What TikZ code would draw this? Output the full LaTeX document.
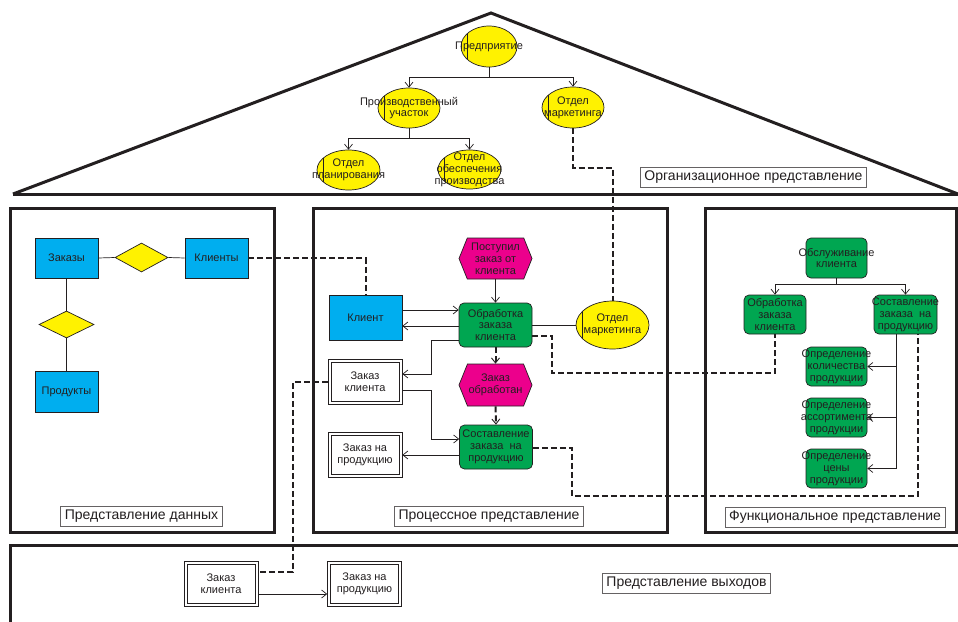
\documentclass[tikz,border=0pt]{standalone}
\usepackage{fontspec}
\setmainfont{Liberation Sans}
\usetikzlibrary{shapes.geometric,shapes.symbols,arrows.meta,calc}
\definecolor{ink}{HTML}{231F20}
\definecolor{orgyel}{HTML}{FFF200}
\definecolor{grn}{HTML}{00A651}
\definecolor{blu}{HTML}{00AEEF}
\definecolor{mag}{HTML}{EC008C}
\tikzset{
  lab/.style={font=\fontsize{11}{11.8}\selectfont, text=ink, align=center, inner sep=0pt},
  t/.style={label={[lab]center:#1}},
  base/.style={draw=ink, line width=0.7pt, inner sep=0pt},
  ell/.style={base, ellipse, fill=orgyel, minimum width=62pt, minimum height=40pt,
    path picture={\draw[ink,line width=0.7pt] ([xshift=6pt]path picture bounding box.north west) -- ([xshift=6pt]path picture bounding box.south west);}},
  gbox/.style={base, rounded corners=5pt, fill=grn, minimum width=73pt, minimum height=44pt},
  fbox/.style={base, rounded corners=5pt, fill=grn, minimum width=62pt, minimum height=39pt},
  bbox/.style={base, fill=blu, minimum width=63pt, minimum height=40pt},
  hexa/.style={base, shape=signal, signal to=east and west, signal pointer angle=136, fill=mag, minimum width=73pt, minimum height=41pt},
  dbox/.style={base, fill=white, minimum width=74pt, minimum height=45pt,
    path picture={\draw[ink,line width=0.7pt] ([shift={(3pt,-3pt)}]path picture bounding box.north west) rectangle ([shift={(-3pt,3pt)}]path picture bounding box.south east);}},
  dia/.style={base, diamond, fill=orgyel},
  arr/.style={draw=ink, line width=0.7pt, -{Straight Barb[length=5pt,width=8pt]}},
  ln/.style={draw=ink, line width=0.7pt},
  dsh/.style={draw=ink, line width=2pt, dash pattern=on 6pt off 3pt},
  dsharr/.style={dsh, -{Straight Barb[length=5pt,width=8pt,line width=0.9pt]}},
  pan/.style={draw=ink, line width=3pt},
  plab/.style={draw=ink!70, line width=0.7pt, fill=white, font=\fontsize{14}{16}\selectfont, text=ink, inner xsep=4pt, inner ysep=2pt, minimum height=20pt}
}
\begin{document}
\begin{tikzpicture}[x=1pt,y=-1pt]
\useasboundingbox (0,0) rectangle (958,621);
\begin{scope}
\clip (0,0) rectangle (958,621);
% roof
\draw[pan, line join=miter] (13,194) -- (491,13) -- (958,194);
\draw[pan] (13,194) -- (958,194);
% panels
\draw[pan] (10,208) rectangle (274,532);
\draw[pan] (313,208) rectangle (667,532);
\draw[pan] (705,208) rectangle (956,532);
\draw[pan] (10,640) -- (10,545) -- (980,545);
\end{scope}

% organisational view
\node[ell, minimum width=56pt, minimum height=41pt, t={Предприятие}] (pr) at (489,46.5) {};
\node[ell, t={Производственный\\участок}] (pu) at (409,108) {};
\node[ell, minimum height=41pt, t={Отдел\\маркетинга}] (om) at (573,107.5) {};
\node[ell, minimum width=63pt, t={Отдел\\планирования}] (op) at (348.5,170) {};
\node[ell, minimum width=63pt, minimum height=39pt, t={Отдел\\обеспечения\\производства}] (oo) at (469.5,169.5) {};
\draw[ln] (pr.south) -- ++(0,9.5) coordinate (t0);
\draw[arr] (t0) -| (pu.north);
\draw[arr] (t0) -| (om.north);
\draw[ln] (pu.south) -- ++(0,10) coordinate (t1);
\draw[arr] (t1) -| (op.north);
\draw[arr] (t1) -| (oo.north);
\node[plab] (lorg) at (753.5,177) {Организационное представление};

% data view
\node[bbox, t={Заказы}] (zs) at (66.5,258) {};
\node[dia, minimum width=53pt, minimum height=29pt] (d1) at (141.5,257.5) {};
\node[bbox, t={Клиенты}] (kl) at (216.5,258) {};
\node[dia, minimum width=55pt, minimum height=27pt] (d2) at (66.5,324.5) {};
\node[bbox, minimum height=41pt, t={Продукты}] (pd) at (66.5,391.5) {};
\draw[ln] (zs.east) -- (d1.west);
\draw[ln] (d1.east) -- (kl.west);
\draw[ln] (zs.south) -- (d2.north);
\draw[ln] (d2.south) -- (pd.north);
\node[plab] (ldat) at (141.5,516) {Представление данных};

% process view
\node[hexa, t={Поступил\\заказ от\\клиента}] (ps) at (495.5,258.5) {};
\node[gbox, t={Обработка\\заказа\\клиента}] (ob) at (495.5,325) {};
\node[bbox, minimum width=73pt, minimum height=45pt, t={Клиент}] (kt) at (365.5,317.5) {};
\node[ell, minimum width=73pt, minimum height=48pt, t={Отдел\\маркетинга}] (pm) at (612.5,325) {};
\node[dbox, t={Заказ\\клиента}] (zk) at (365,381.5) {};
\node[hexa, minimum height=42pt, t={Заказ\\обработан}] (zo) at (495.5,385) {};
\node[gbox, t={Составление\\заказа~~на\\продукцию}] (so) at (496,447) {};
\node[dbox, t={Заказ на\\продукцию}] (zp) at (365,454.5) {};
\draw[arr] (ps.south) -- (ob.north);
\draw[arr] ([yshift=7.5pt]kt.east) -- ([yshift=7.5pt]kt.east -| ob.west);
\draw[arr] ([yshift=-8.5pt]kt.east -| ob.west) -- ([yshift=-8.5pt]kt.east);
\draw[ln] (ob.east) -- (pm.west);
\coordinate (c2) at (431,374);
\draw[arr] ([yshift=-15pt]ob.west) -| (c2) -- (c2 -| zk.east);
\coordinate (c3) at (431,439);
\draw[arr] ([yshift=-8.5pt]zk.east) -| (c3) -- (c3 -| so.west);
\draw[arr] ([yshift=-8pt]so.west) -- ([yshift=-8pt]so.west -| zp.east);
\draw[dsharr] (ob.south) -- (zo.north);
\draw[dsharr] (zo.south) -- (so.north);
\node[plab] (lpro) at (489,516.5) {Процессное представление};

% functional view
\node[fbox, minimum width=61pt, minimum height=40pt, t={Обслуживание\\клиента}] (fs) at (836.5,258) {};
\node[fbox, t={Обработка\\заказа\\клиента}] (fob) at (775,314.5) {};
\node[fbox, minimum width=63pt, t={Составление\\заказа~ на\\продукцию}] (fso) at (905.5,314.5) {};
\node[fbox, minimum width=61pt, t={Определение\\количества\\продукции}] (fq) at (836.5,366.5) {};
\node[fbox, minimum width=61pt, t={Определение\\ассортимента\\продукции}] (fa) at (836.5,417.5) {};
\node[fbox, minimum width=61pt, t={Определение\\цены\\продукции}] (fc) at (836.5,468.5) {};
\draw[ln] (fs.south) -- ++(0,6) coordinate (t2);
\draw[arr] (t2) -| (fob.north);
\draw[arr] (t2) -| (fso.north);
\draw[arr] ([xshift=-9.5pt]fso.south) |- (fc.east);
\draw[arr] ([xshift=-9.5pt]fso.south) |- (fa.east);
\draw[arr] ([xshift=-9.5pt]fso.south) |- (fq.east);
\node[plab] (lfun) at (835,517) {Функциональное представление};

% output view
\node[dbox, t={Заказ\\клиента}] (ozk) at (221,583.5) {};
\node[dbox, t={Заказ на\\продукцию}] (ozp) at (364.5,583.5) {};
\draw[arr] ([yshift=-10.5pt]ozk.east) -- ([yshift=-10.5pt]ozk.east -| ozp.west);
\node[plab] (lout) at (686.5,583.5) {Представление выходов};

% dashed links between views
\draw[dsh] (om.south) -- ++(0,39.5) -| (pm.north);
\draw[dsh] (kl.east) -| (kt.north);
\coordinate (c1) at (293,0);
\draw[dsh] (zk.west) -- (zk.west -| c1) |- ([yshift=11.5pt]ozk.east);
\coordinate (c4) at (552,373);
\draw[dsh] ([yshift=-11pt]ob.east) -| (c4) -| (fob.south);
\coordinate (c5) at (572,496);
\draw[dsh] ([yshift=-1pt]so.east) -| (c5) -| ([xshift=12.5pt]fso.south);
\end{tikzpicture}
\end{document}
